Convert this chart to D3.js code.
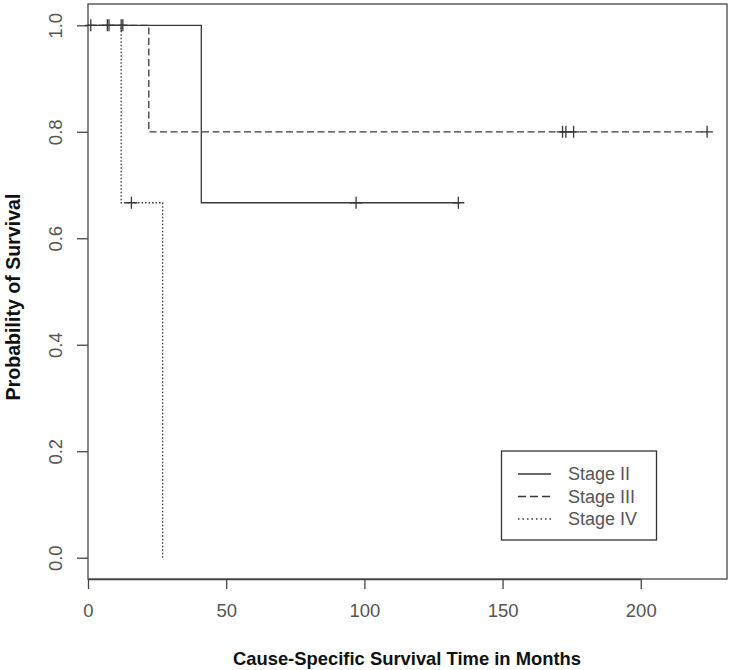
<!DOCTYPE html>
<html>
<head>
<meta charset="utf-8">
<script src="https://cdn.jsdelivr.net/npm/d3@7"></script>
<style>
  html, body { margin: 0; padding: 0; background: #fff; }
  svg { display: block; font-family: "Liberation Sans", Arial, sans-serif; }
</style>
</head>
<body>
<svg id="chart" width="734" height="670"></svg>
<script>
// ---- data ----
const seriesNames = ["Stage II", "Stage III", "Stage IV"];
// step curves: [time, survival]
const stage2Steps = [[0, 1.0], [41, 0.6667], [134.5, 0.6667]];
const stage3Steps = [[0, 1.0], [22, 0.8], [224, 0.8]];
const stage4Steps = [[0, 1.0], [12, 0.6667], [27, 0.6667], [27, 0.0]];
// censor marks: [time, survival]
const stage2Censor = [[1, 1.0], [7.6, 1.0], [12.6, 1.0], [97, 0.6667], [134, 0.6667]];
const stage3Censor = [[7, 1.0], [12, 1.0], [171.7, 0.8], [172.9, 0.8], [175.7, 0.8], [224, 0.8]];
const stage4Censor = [[15.7, 0.6667]];
const xTicks = [0, 50, 100, 150, 200];
const yTicks = [0.0, 0.2, 0.4, 0.6, 0.8, 1.0];
const xTitle = "Cause-Specific Survival Time in Months";
const yTitle = "Probability of Survival";

// ---- layout ----
const svg = d3.select("#chart");
const L = 88, R = 727, T = 4, B = 579;
const x = d3.scaleLinear().domain([0, 231.2]).range([L, R]);
const y = d3.scaleLinear().domain([-0.04, 1.04]).range([B, T]);
const lineCol = "#383838";
const dashes = [null, "7,3.5", "1.5,2"];

// box
svg.append("rect").attr("x", L).attr("y", T).attr("width", R - L).attr("height", B - T)
  .attr("fill", "none").attr("stroke", "#444").attr("stroke-width", 1.3);

// axes
const xAxis = d3.axisBottom(x).tickValues(xTicks).tickSize(10).tickPadding(15).tickFormat(d3.format("d"));
const gx = svg.append("g").attr("transform", `translate(0,${B})`).call(xAxis);
gx.select(".domain").attr("d", `M${x(0)},0.5H${x(200)}`).attr("stroke", "#444").attr("stroke-width", 1.3);
gx.selectAll(".tick line").attr("stroke", "#444").attr("stroke-width", 1.3);
gx.selectAll(".tick text").attr("fill", "#555").style("font-size", "18.5px").style("font-family", "Liberation Sans, Arial, sans-serif");

const yAxis = d3.axisLeft(y).tickValues(yTicks).tickSize(11).tickFormat(d3.format(".1f"));
const gy = svg.append("g").attr("transform", `translate(${L},0)`).call(yAxis);
gy.select(".domain").remove();
gy.selectAll(".tick line").attr("stroke", "#444").attr("stroke-width", 1.3);
gy.selectAll(".tick text")
  .attr("fill", "#555").style("font-size", "18.5px").style("font-family", "Liberation Sans, Arial, sans-serif")
  .attr("x", null).attr("dy", null)
  .attr("text-anchor", "middle")
  .attr("transform", "translate(-32,0) rotate(-90)")
  .attr("dy", "0.35em");

// titles
svg.append("text").attr("x", 407).attr("y", 665).attr("text-anchor", "middle")
  .style("font-size", "18.4px").style("font-weight", "bold").attr("fill", "#111").text(xTitle);
svg.append("text").attr("transform", "translate(20,297) rotate(-90)").attr("text-anchor", "middle")
  .style("font-size", "19.6px").style("font-weight", "bold").attr("fill", "#111").text(yTitle);

// curves
const stepLine = d3.line().x(d => x(d[0])).y(d => y(d[1])).curve(d3.curveStepAfter);
const stepsAll = [stage2Steps, stage3Steps, stage4Steps];
const censorAll = [stage2Censor, stage3Censor, stage4Censor];
stepsAll.forEach((s, i) => {
  svg.append("path").attr("d", stepLine(s)).attr("fill", "none")
    .attr("stroke", lineCol).attr("stroke-width", 1.3)
    .attr("stroke-dasharray", dashes[i]);
});
// censor "+" marks
const h = 6;
censorAll.forEach(c => {
  svg.append("g").selectAll("path").data(c).join("path")
    .attr("d", d => `M${x(d[0]) - h},${y(d[1])}H${x(d[0]) + h}M${x(d[0])},${y(d[1]) - h}V${y(d[1]) + h}`)
    .attr("stroke", lineCol).attr("stroke-width", 1.3).attr("fill", "none");
});

// legend
const lg = svg.append("g");
lg.append("rect").attr("x", 501.5).attr("y", 451).attr("width", 155).attr("height", 89)
  .attr("fill", "#fff").attr("stroke", "#333").attr("stroke-width", 1.3);
const legDash = [null, "8,4", "1.5,3"];
seriesNames.forEach((n, i) => {
  const yy = 474 + i * 22.5;
  lg.append("line").attr("x1", 518).attr("x2", 551).attr("y1", yy).attr("y2", yy)
    .attr("stroke", lineCol).attr("stroke-width", 1.3).attr("stroke-dasharray", legDash[i]);
  lg.append("text").attr("x", 568).attr("y", yy).attr("dy", "0.36em")
    .style("font-size", "18px").attr("fill", "#555").text(n);
});
</script>
</body>
</html>
